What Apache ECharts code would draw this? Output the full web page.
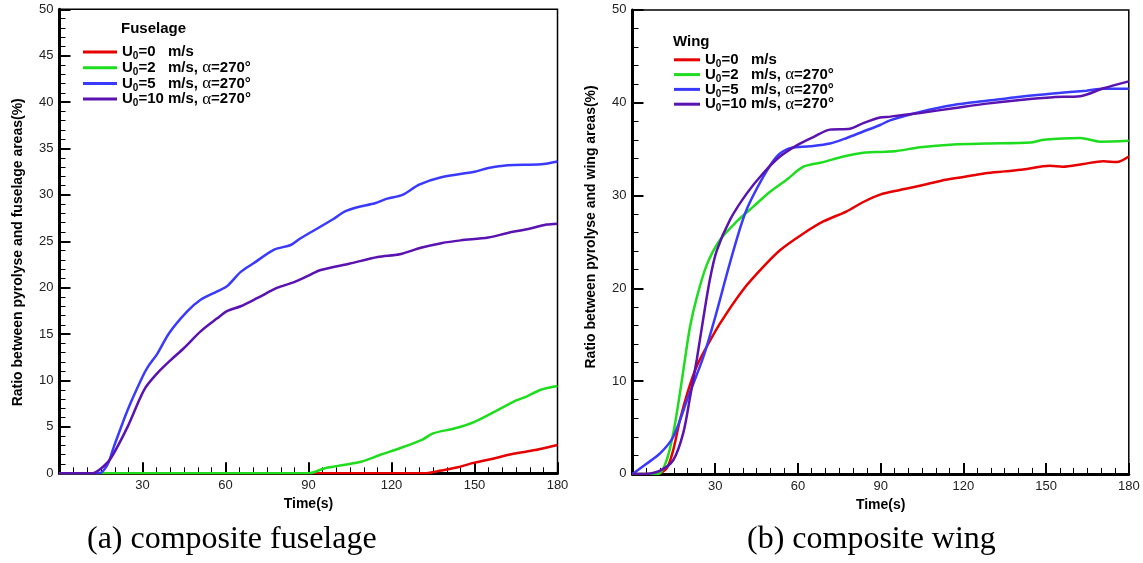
<!DOCTYPE html>
<html><head><meta charset="utf-8">
<script src="https://cdn.jsdelivr.net/npm/echarts@6/dist/echarts.min.js"></script>
<style>html,body{margin:0;padding:0;background:#fff}#c{width:1143px;height:563px}</style>
</head><body><div id="c"></div>
<script>
// ---- data (time s, ratio %) ----
const speedLabels = ['0', '2', '5', '10'];
const seriesColors = ['#e60000', '#1edc1e', '#3a3aff', '#5a12b0'];

const fuselageU0 = [[0,0],[132,0],[138,0.3],[144,0.65],[150,1.15],[157,1.6],[164,2.1],[172,2.5],[180,3.05]];
const fuselageU2 = [[0,0],[90,0],[96,0.55],[109,1.25],[116,2.0],[123,2.7],[131,3.6],[135,4.3],[143,4.85],[150,5.55],[157,6.6],[164,7.7],[169,8.3],[174,9.0],[180,9.4]];
const fuselageU5 = [[0,0],[14.3,0],[17.3,0.9],[19.7,2.9],[24.6,6.8],[30,10.4],[32,11.5],[35.4,12.9],[39.6,15.1],[46,17.4],[51,18.7],[57,19.6],[60.7,20.2],[65.5,21.7],[70,22.6],[77.6,24.1],[83.6,24.6],[87,25.3],[91,26],[99,27.4],[103,28.2],[108,28.7],[114,29.1],[118.5,29.6],[124,30],[130,31.1],[138,31.9],[150,32.5],[155,32.9],[162,33.2],[174,33.3],[180,33.6]];
const fuselageU10 = [[0,0],[11.9,0],[14.9,0.5],[18.5,1.6],[24.6,5.0],[30.6,9.0],[35.4,10.8],[40.2,12.2],[45,13.5],[51,15.3],[57,16.7],[60.7,17.5],[65.5,18.0],[71.6,18.9],[78.8,20.0],[84.8,20.6],[90,21.3],[94.4,21.9],[105,22.6],[115,23.3],[123,23.6],[130.6,24.3],[138,24.8],[145,25.1],[155,25.4],[162,25.9],[169,26.3],[176,26.8],[180,26.9]];

const wingU0 = [[0,0],[8.8,0],[12.4,0.6],[14.8,2.6],[17.2,5.8],[20.2,9.0],[23.3,11.6],[26.9,13.7],[31.7,16.2],[40,19.8],[47.4,22.3],[53.5,24.1],[62,25.9],[69.2,27.2],[77.7,28.3],[83.7,29.3],[89.8,30.1],[97,30.6],[105,31.1],[112,31.6],[120,32.0],[128,32.4],[135,32.6],[141.7,32.8],[151.4,33.2],[156,33.1],[163.5,33.4],[170.8,33.7],[175.6,33.6],[180,34.2]];
const wingU2 = [[0,0],[9.4,0],[12.4,1.5],[14.8,4.4],[17.2,8.7],[19,12.3],[20.9,15.9],[23.3,19.0],[26.9,22.5],[31.7,25.2],[37.8,27.2],[43.8,28.8],[49.9,30.4],[55.9,31.7],[62,33.1],[69.2,33.6],[76.5,34.2],[83.7,34.6],[89.8,34.7],[95.8,34.8],[104.3,35.2],[116.4,35.5],[128.5,35.6],[144.2,35.7],[149,36.0],[162.3,36.2],[169.6,35.8],[180,35.9]];
const wingU5 = [[0,0],[5.1,1.1],[10,2.2],[14.8,4.0],[20.2,8.3],[25.7,12.6],[30,16.9],[35.4,22.8],[41,28.2],[47.4,32.0],[52.3,34.2],[57.1,35.1],[64.4,35.3],[71.6,35.6],[77.7,36.2],[83.7,36.9],[89.8,37.6],[93.4,38.1],[104.3,39.0],[116.4,39.75],[128.5,40.2],[140.6,40.65],[152.6,41.0],[164.7,41.3],[170.8,41.5],[180,41.5]];
const wingU10 = [[0,0],[4.5,0],[10,0.35],[14.8,1.5],[18.4,4.4],[20.9,8.3],[23.3,12.3],[25.7,16.8],[28.1,21.0],[30.5,24.0],[35.4,27.4],[41.4,30.2],[47.4,32.4],[53.5,34.2],[59.6,35.4],[65.6,36.3],[71.6,37.1],[78.9,37.2],[83.7,37.8],[89.8,38.4],[93.4,38.5],[104.3,38.9],[116.4,39.4],[128.5,39.9],[140.6,40.3],[152.6,40.6],[162.3,40.7],[170.8,41.55],[180,42.3]];

const fuselageData = [fuselageU0, fuselageU2, fuselageU5, fuselageU10];
const wingData = [wingU0, wingU2, wingU5, wingU10];

const xRange = {min: 0, max: 180, interval: 30};
const fuselageY = {min: 0, max: 50, interval: 5};
const wingY = {min: 0, max: 50, interval: 10};

const panelTitles = ['Fuselage', 'Wing'];
const yTitles = ['Ratio between pyrolyse and fuselage areas(%)', 'Ratio between pyrolyse and wing areas(%)'];
const xTitle = 'Time(s)';
const captions = ['(a) composite fuselage', '(b) composite wing'];

// ---- chart ----
const SANS = 'Liberation Sans, Arial, sans-serif';
const chart = echarts.init(document.getElementById('c'), null, {renderer: 'canvas'});

function legendFmt(name) {
  const i = +name.slice(1);
  const sp = speedLabels[i];
  const tail = sp === '10' ? '=10 m/s' : '=' + sp + '   m/s';
  return '{b|U}{s|0}{b|' + tail + (i === 0 ? '' : ', ') + '}' + (i === 0 ? '' : '{a|α}{b|=270°}');
}
const rich = {
  b: {fontFamily: SANS, fontWeight: 'bold', fontSize: 15, color: '#000', lineHeight: 15},
  s: {fontFamily: SANS, fontWeight: 'bold', fontSize: 10, color: '#000', lineHeight: 6, padding: [9, 0, 0, 0]},
  a: {fontFamily: 'Liberation Serif, serif', fontSize: 17, color: '#000', lineHeight: 15}
};

const grids = [
  {left: 59.5, right: 1143 - 557.5, top: 9.3, bottom: 563 - 473.3},
  {left: 632.5, right: 1143 - 1128.8, top: 9.9, bottom: 563 - 473.9}
];

function xAxis(gi) {
  return {
    type: 'value', gridIndex: gi, min: xRange.min, max: xRange.max, interval: xRange.interval,
    name: xTitle, nameLocation: 'middle', nameGap: 20,
    nameTextStyle: {fontFamily: SANS, fontWeight: 'bold', fontSize: 14, color: '#000'},
    axisLine: {show: true, onZero: false, lineStyle: {color: '#000', width: 3}},
    axisTick: {show: true, inside: true, length: 11, lineStyle: {color: '#000', width: 2}},
    minorTick: {show: true, splitNumber: 6, length: 6, lineStyle: {color: '#000', width: 1}},
    axisLabel: {margin: 6, fontFamily: SANS, fontSize: 13, color: '#222', formatter: v => v === 0 ? '' : String(v)},
    splitLine: {show: false}
  };
}
function yAxis(gi, r, pad) {
  return {
    type: 'value', gridIndex: gi, min: r.min, max: r.max, interval: r.interval,
    name: yTitles[gi], nameLocation: 'middle', nameGap: 34,
    nameTextStyle: {fontFamily: SANS, fontWeight: 'bold', fontSize: 14, color: '#000', padding: pad},
    axisLine: {show: true, onZero: false, lineStyle: {color: '#000', width: 3}},
    axisTick: {show: true, inside: true, length: 11, lineStyle: {color: '#000', width: 2}},
    minorTick: {show: true, splitNumber: 5, length: 6, lineStyle: {color: '#000', width: 1}},
    axisLabel: {margin: 6, fontFamily: SANS, fontSize: 13, color: '#222'},
    splitLine: {show: false}
  };
}

const series = [];
[fuselageData, wingData].forEach((set, gi) => {
  set.forEach((d, i) => {
    series.push({
      name: (gi === 0 ? 'f' : 'w') + i, type: 'line', xAxisIndex: gi, yAxisIndex: gi,
      data: d, showSymbol: false, symbol: 'none', smooth: 0.3,
      lineStyle: {color: seriesColors[i], width: 2.5}, itemStyle: {color: seriesColors[i]},
      animation: false, z: 3 + i
    });
  });
});

chart.setOption({
  animation: false,
  backgroundColor: '#fff',
  grid: grids.map(g => Object.assign({show: true, borderColor: '#000', borderWidth: 1.5, backgroundColor: 'transparent'}, g)),
  xAxis: [xAxis(0), xAxis(1)],
  yAxis: [yAxis(0, fuselageY, [0, 22, 0, 0]), yAxis(1, wingY, [0, 0, 0, 30])],
  title: [
    {text: panelTitles[0], left: 121, top: 21, textStyle: {fontFamily: SANS, fontWeight: 'bold', fontSize: 15, color: '#000'}, padding: 0},
    {text: panelTitles[1], left: 673, top: 34, textStyle: {fontFamily: SANS, fontWeight: 'bold', fontSize: 15, color: '#000'}, padding: 0}
  ],
  legend: [
    {data: ['f0', 'f1', 'f2', 'f3'], orient: 'vertical', left: 83, top: 42.5, icon: 'rect', itemWidth: 34, itemHeight: 3, itemGap: -3.3,
     padding: 0, formatter: legendFmt, textStyle: {rich: rich}, selectedMode: false},
    {data: ['w0', 'w1', 'w2', 'w3'], orient: 'vertical', left: 674, top: 50.3, icon: 'rect', itemWidth: 26, itemHeight: 3, itemGap: -4.2,
     padding: 0, formatter: legendFmt, textStyle: {rich: rich}, selectedMode: false}
  ],
  graphic: [
    {type: 'text', left: 232 - 145, top: 524, style: {text: captions[0], font: '32px "Liberation Serif", serif', fill: '#000'}},
    {type: 'text', left: 872 - 125, top: 524, style: {text: captions[1], font: '32px "Liberation Serif", serif', fill: '#000'}}
  ],
  series: series
});
</script></body></html>
